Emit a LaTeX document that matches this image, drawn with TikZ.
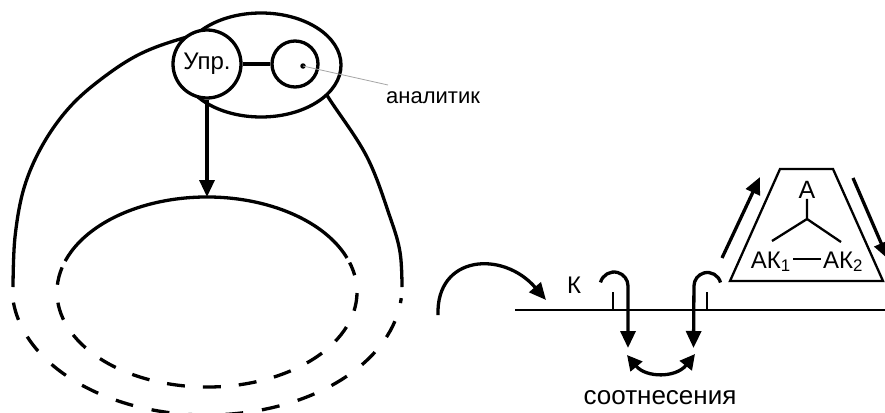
\documentclass[tikz,border=0pt]{standalone}
\usepackage{fontspec}
\setmainfont{Liberation Sans}
\usetikzlibrary{arrows.meta,shapes.geometric}
\begin{document}
\begin{tikzpicture}[x=1pt,y=-1pt,
  thk/.style={line width=3.3pt},
  thn/.style={line width=1.6pt},
  med/.style={line width=2.3pt},
  arr/.style={thk,-{Triangle[length=17pt,width=15pt]}},
  darr/.style={thk,{Triangle[length=15pt,width=15pt]}-{Triangle[length=15pt,width=15pt]}},
  lbl/.style={inner sep=0pt,font=\fontsize{22}{26}\selectfont}
]
\path[fill=white,use as bounding box] (0,0) rectangle (885,412);

% ---------- left figure ----------
\coordinate (ci) at (207,292);
\coordinate (co) at (207,287);
\coordinate (itop) at (207,197);
% outer upper solid curve
\draw[thk] plot[smooth,tension=0.6] coordinates {(13,287) (15,237) (24,188) (42,146) (68,109) (100,80) (140,54) (187,37) (240,25) (300,55) (330,100) (367,157) (390,217) (400,252) (402,287)};
% outer lower dashed
\draw[thk,dash pattern=on 18pt off 19pt] (co) ++(187:195pt and 128pt) arc[start angle=187,end angle=355,x radius=195pt,y radius=128pt];
% inner solid top
\draw[thk] (ci) ++(21:150pt and 95pt) arc[start angle=21,end angle=161,x radius=150pt,y radius=95pt];
% inner dashed bottom
\draw[thk,dash pattern=on 18pt off 18pt] (ci) ++(165:150pt and 95pt) arc[start angle=165,end angle=378,x radius=150pt,y radius=95pt];

% group ellipse and circles
\node[ellipse,draw,thk,fill=white,minimum width=160pt,minimum height=104pt,inner sep=0pt] (grp) at (261,65) {};
\node[circle,draw,thk,fill=white,minimum size=68pt,inner sep=0pt,font=\fontsize{24}{28}\selectfont] (upr) at (207,64) {Упр.};
\node[circle,draw,thk,fill=white,minimum size=46pt,inner sep=0pt] (an) at (295,64) {};
\draw[thk] (upr) -- (an);
\node[circle,fill=black,inner sep=0pt,minimum size=5.5pt] (dot) at (303,66) {};
\node[lbl,anchor=base west] (anl) at (386,103) {аналитик};
\coordinate (lp) at (388,85);
\draw[gray!70,line width=0.8pt] (dot.center) -- (lp);
\draw[arr] (upr.south) -- (itop);

% ---------- right figure ----------
\coordinate (ls) at (515,310);
\coordinate (le) at (890,310);
\draw[thn] (ls) -- (le);
\coordinate (ca) at (438,315);
\coordinate (cb) at (546,300);
\draw[arr] (ca) .. controls (436,255) and (503,250) .. (cb);
\node[inner sep=0pt,font=\fontsize{24}{28}\selectfont] (k) at (574,285) {К};

\coordinate (t1a) at (613,292);
\coordinate (t1b) at (613,310);
\draw[thn] (t1a) -- (t1b);
\coordinate (t2a) at (707,292);
\coordinate (t2b) at (707,310);
\draw[thn] (t2a) -- (t2b);

\coordinate (h1s) at (600.5,282.4);
\coordinate (h1e) at (628,348);
\draw[arr] (h1s) arc[start angle=165,end angle=0,radius=14pt] -- (h1e);
\coordinate (h2s) at (720.5,282.5);
\coordinate (h2e) at (693.5,348);
\draw[arr] (h2s) arc[start angle=15,end angle=180,radius=13.5pt] -- (h2e);

\coordinate (d1) at (627,355);
\coordinate (d2) at (695,354);
\draw[darr] (d1) .. controls (646,378) and (676,378) .. (d2);
\node[lbl,font=\fontsize{26}{30}\selectfont] (sot) at (660,398) {соотнесения};

% trapezoid
\coordinate (ta) at (780,169);
\coordinate (tb) at (833,169);
\coordinate (tc) at (883,281);
\coordinate (td) at (730,281);
\draw[med] (ta) -- (tb) -- (tc) -- (td) -- cycle;
\node[lbl,font=\fontsize{25}{29}\selectfont] (A) at (807,190) {А};
\coordinate (yj) at (807,219);
\coordinate (b1) at (772,241);
\coordinate (b2) at (841,242);
\draw[med] (A.south) -- (yj) -- (b1);
\draw[med] (yj) -- (b2);
\node[lbl,font=\fontsize{24}{28}\selectfont,anchor=base east] (ak1) at (791,268) {АК\textsubscript{1}};
\node[lbl,font=\fontsize{24}{28}\selectfont,anchor=base west] (ak2) at (823,268) {АК\textsubscript{2}};
\draw[med] ([xshift=2pt,yshift=9pt]ak1.base east) -- ([xshift=-2pt,yshift=9pt]ak2.base west);

\coordinate (u1) at (722,258);
\coordinate (u2) at (760,177);
\draw[arr] (u1) -- (u2);
\coordinate (v1) at (853,178);
\coordinate (v2) at (888,259);
\draw[arr] (v1) -- (v2);
\end{tikzpicture}
\end{document}
